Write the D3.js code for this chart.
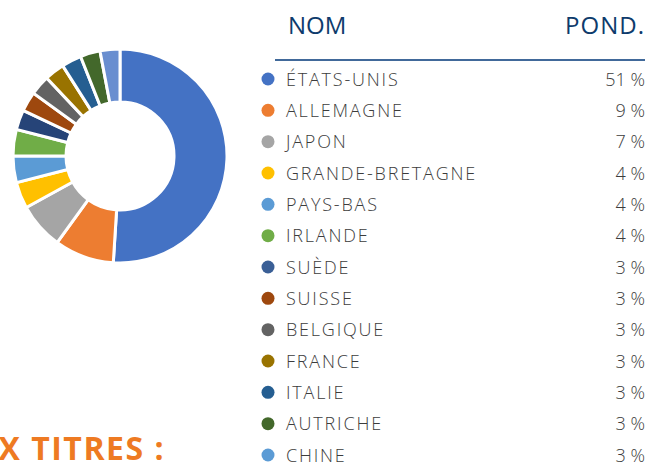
<!DOCTYPE html>
<html>
<head>
<meta charset="utf-8">
<script src="https://cdn.jsdelivr.net/npm/d3@7"></script>
<style>
  body { margin: 0; background: #fff; }
  svg { display: block; }
</style>
</head>
<body>
<svg id="chart" width="647" height="466"></svg>
<script>
const countries = ["ÉTATS-UNIS", "ALLEMAGNE", "JAPON", "GRANDE-BRETAGNE", "PAYS-BAS", "IRLANDE",
  "SUÈDE", "SUISSE", "BELGIQUE", "FRANCE", "ITALIE", "AUTRICHE", "CHINE"]
const weights = [51, 9, 7, 4, 4, 4, 3, 3, 3, 3, 3, 3, 3]
const weightLabels = ["51 %", "9 %", "7 %", "4 %", "4 %", "4 %", "3 %", "3 %", "3 %", "3 %", "3 %", "3 %", "3 %"]
const colors = ["#4472C4", "#ED7D31", "#A5A5A5", "#FFC000", "#5B9BD5", "#70AD47",
  "#264478", "#9E480E", "#636363", "#997300", "#255E91", "#43682B", "#698ED0"]
const dotColors = ["#4472C4", "#ED7D31", "#A5A5A5", "#FFC000", "#5B9BD5", "#70AD47",
  "#3A5F96", "#9E480E", "#636363", "#997300", "#255E91", "#43682B", "#5B9BD5"]

const svg = d3.select("#chart")
const data = countries.map((c, i) => ({name: c, value: weights[i], label: weightLabels[i], color: colors[i], dot: dotColors[i]}))

// donut
let pie = d3.pie().value(d => d.value).sort(null)
let arc = d3.arc().innerRadius(54).outerRadius(107)
let g = svg.append("g").attr("transform", "translate(120,156)")
g.selectAll("path")
  .data(pie(data))
  .join("path")
  .attr("d", arc)
  .attr("fill", d => d.data.color)
  .attr("stroke", "#fff")
  .attr("stroke-width", 3)

// table header
svg.append("text")
  .attr("x", 288).attr("y", 34)
  .attr("font-family", "Open Sans").attr("font-weight", 500).attr("font-size", 24)
  .attr("fill", "#0E3B6C")
  .text("NOM")
svg.append("text")
  .attr("x", 645).attr("y", 34)
  .attr("text-anchor", "end")
  .attr("font-family", "Open Sans").attr("font-weight", 500).attr("font-size", 24)
  .attr("letter-spacing", 1)
  .attr("fill", "#0E3B6C")
  .text("POND.")
svg.append("line")
  .attr("x1", 275).attr("x2", 645).attr("y1", 60).attr("y2", 60)
  .attr("stroke", "#41699A").attr("stroke-width", 2)

// legend rows
let y = d3.scalePoint().domain(countries).range([79, 455])
let rows = svg.append("g").selectAll("g")
  .data(data)
  .join("g")
  .attr("transform", d => "translate(0," + y(d.name) + ")")
rows.append("circle")
  .attr("cx", 268).attr("cy", 0).attr("r", 6.5)
  .attr("fill", d => d.dot)
rows.append("text")
  .attr("x", 286).attr("y", 6.5)
  .attr("font-family", "Open Sans").attr("font-weight", 300).attr("font-size", 18)
  .attr("letter-spacing", 1.8)
  .attr("fill", "#3C3C3C")
  .text(d => d.name)
rows.append("text")
  .attr("x", 645).attr("y", 6.5)
  .attr("text-anchor", "end")
  .attr("font-family", "Open Sans").attr("font-weight", 300).attr("font-size", 18)
  .attr("fill", "#3C3C3C")
  .text(d => d.label)

// section title, cut at the left edge as in the source
svg.append("text")
  .attr("x", 165).attr("y", 460)
  .attr("text-anchor", "end")
  .attr("font-family", "Open Sans").attr("font-weight", 700).attr("font-size", 32)
  .attr("letter-spacing", 1.5)
  .attr("fill", "#EE7A22")
  .text("PRINCIPAUX TITRES :")
</script>
</body>
</html>
